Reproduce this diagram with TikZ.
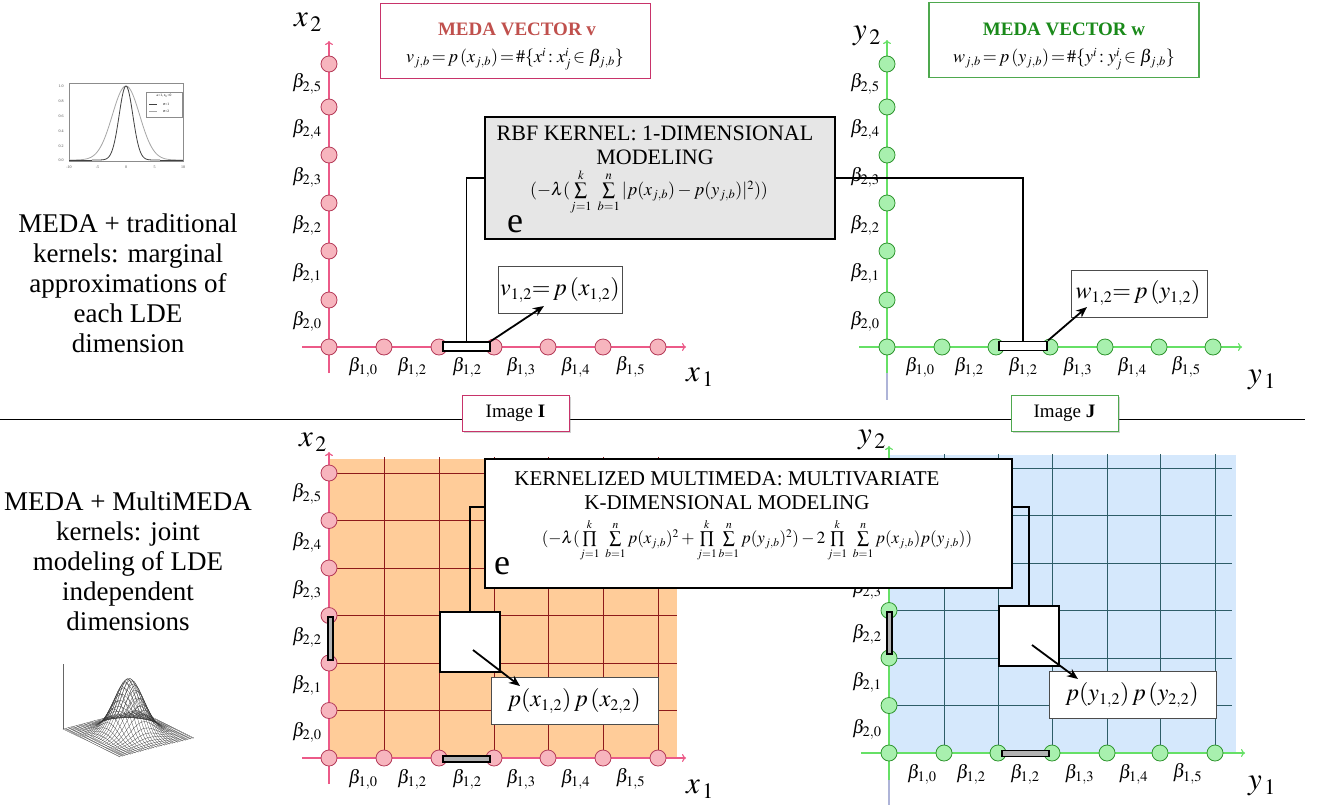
\documentclass[tikz,border=0pt]{standalone}
\usepackage{mathptmx}
\usepackage[no-math]{fontspec}
\setmainfont{Liberation Serif}
\usetikzlibrary{arrows.meta,shadows,calc}
\DeclareMathSizes{17}{17}{11.5}{8}
\DeclareMathSizes{19}{19}{14.5}{11}
\DeclareMathSizes{18}{18}{12.5}{9}
\DeclareMathSizes{24}{24}{16}{12}
\DeclareMathSizes{31}{31}{22}{16}
\definecolor{pinkaxis}{HTML}{EC5A88}
\definecolor{pinkfill}{HTML}{F7B5BE}
\definecolor{pinkdraw}{HTML}{B53A58}
\definecolor{crimbox}{HTML}{C8336A}
\definecolor{redtitle}{HTML}{C0504D}
\definecolor{greenaxis}{HTML}{66E066}
\definecolor{greenfill}{HTML}{A8F0AE}
\definecolor{greendraw}{HTML}{2E952E}
\definecolor{greenbox}{HTML}{4EA84E}
\definecolor{greentitle}{HTML}{1A8A1A}
\definecolor{orangebg}{HTML}{FFCC99}
\definecolor{gridred}{HTML}{8E1A1A}
\definecolor{bluebg}{HTML}{D5E8FC}
\definecolor{gridteal}{HTML}{2E5D68}
\definecolor{lavender}{HTML}{AEB4D8}
\definecolor{rbfgray}{HTML}{E6E6E6}
\begin{document}
\begin{tikzpicture}[x=1pt,y=-1pt,
  pc/.style={circle, minimum size=16pt, inner sep=0pt, fill=pinkfill, draw=pinkdraw, line width=0.8pt},
  gc/.style={circle, minimum size=16pt, inner sep=0pt, fill=greenfill, draw=greendraw, line width=0.8pt},
  blab/.style={font=\fontsize{19}{21}\selectfont, inner sep=0pt},
  axlab/.style={font=\fontsize{31}{33}\selectfont, inner sep=0pt},
  lefttext/.style={align=center, font=\fontsize{27}{30}\selectfont, inner sep=0pt},
  whitebar/.style={draw=black, line width=1.8pt, fill=white, inner sep=0pt},
  graybar/.style={draw=black, line width=1.5pt, fill=black!30, inner sep=0pt},
  conn/.style={line width=1.6pt},
  arr/.style={line width=1.8pt, -{Stealth[length=11pt,width=9pt]}},
  formbox/.style={draw=black!70, fill=white, line width=0.8pt, inner sep=0pt},
  bigbox/.style={draw=black, line width=2pt, inner sep=0pt},
  axtip/.style={-{To[length=4pt,width=8pt]}},
  formtext/.style={inner sep=0pt, font=\fontsize{24}{26}\selectfont},
  titletext/.style={inner sep=0pt, font=\fontsize{22}{24}\selectfont, align=center},
  expo/.style={inner sep=0pt, font=\fontsize{17}{19}\selectfont},
  bige/.style={inner sep=0pt, font=\fontsize{36}{38}\selectfont},
  imgbox/.style={fill=white, line width=1pt, minimum width=107pt, minimum height=36pt, inner sep=0pt,
     font=\fontsize{19}{21}\selectfont, drop shadow={shadow xshift=2pt, shadow yshift=-2pt, opacity=0.35}},
  meda/.style={fill=white, line width=1.1pt, minimum width=270pt, minimum height=75pt, inner sep=0pt}
]
\useasboundingbox (0,0) rectangle (1322,809);
\fill[white] (0,0) rectangle (1322,809);

% ---------------- left texts ----------------
\node[lefttext] (txtA) at (128,283) {MEDA + traditional\\kernels: marginal\\approximations of\\each LDE\\dimension};
\node[lefttext] (txtB) at (128,561) {MEDA + MultiMEDA\\kernels: joint\\modeling of LDE\\independent\\dimensions};

% ---------------- thumbnail 1: 1-D gaussians ----------------
\draw[black!45, line width=0.5pt] (69,83) rectangle (183,161);
\draw[black!35, line width=0.8pt] plot[domain=-10:10, samples=90] ({126+5.7*\x},{160-74*exp(-\x*\x/11.5)});
\draw[black!75, line width=0.8pt] plot[domain=-6:6, samples=70] ({126+5.7*\x},{160-74*exp(-\x*\x/2.88)});
\draw[black!75, line width=0.8pt] (69,160) -- (91.8,160) (160.2,160) -- (183,160);
\draw[black!45, fill=white, line width=0.4pt] (146,92) rectangle (182,117);
\node[inner sep=0pt, font=\fontsize{3.6}{4}\selectfont] (lg1) at (164,96) {a=1, x$_0$=0};
\draw[black!75, line width=0.6pt] (149,104) -- (157,104);
\node[inner sep=0pt, font=\fontsize{3.6}{4}\selectfont] (lg2) at (166,104) {$\sigma$=1};
\draw[black!35, line width=0.6pt] (149,111) -- (157,111);
\node[inner sep=0pt, font=\fontsize{3.6}{4}\selectfont] (lg3) at (166,111) {$\sigma$=2};
\foreach \v/\yy in {1.0/86,0.8/101,0.6/116,0.4/131,0.2/146,0.0/160}
  \node[inner sep=0pt, font=\fontsize{4}{5}\selectfont, text=black!70] (tk\yy) at (61,\yy) {\v};
\foreach \v/\xx in {-10/69,-5/97.5,0/126,5/154.5,10/183}
  \node[inner sep=0pt, font=\fontsize{4}{5}\selectfont, text=black!70] (tx\xx) at (\xx,167) {\v};

% ---------------- thumbnail 2: 2-D gaussian mesh ----------------
\draw[black!60, line width=0.4pt] (63,729) -- (63,664);
\foreach \v in {-1,-0.93,...,1.01}
  \draw[black!80, line width=0.22pt] plot[domain=-1:1, samples=30] ({129+37.5*\x+28.5*\v},{733.5-9.5*\x+14*\v-55*exp(-5*(\x*\x+\v*\v))});
\foreach \u in {-1,-0.93,...,1.01}
  \draw[black!80, line width=0.22pt] plot[domain=-1:1, samples=30] ({129+37.5*\u+28.5*\x},{733.5-9.5*\u+14*\x-55*exp(-5*(\x*\x+\u*\u))});

% ================= TOP LEFT (image I, 1-D) =================
\draw[pinkaxis, line width=1.2pt, axtip] (329,373) -- (329,41);
\draw[pinkaxis, line width=1.2pt, axtip] (302,347) -- (686,347);
\foreach \yy [count=\i] in {64,107,155,203,251,300}
  \node[pc] (tlv\i) at (329,\yy) {};
\foreach \xx [count=\i] in {329,384,439,494,548,603,658}
  \node[pc] (tlh\i) at (\xx,347) {};
\foreach \yy/\s in {84/5,129/4,177/3,225/2,273/1,321/0}
  \node[blab] (tlvl\s) at (307,\yy) {$\beta_{2,\s}$};
\foreach \xx/\s [count=\i] in {363/0,412/2,467/2,521/3,575.5/4,630.5/5}
  \node[blab] (tlhl\i) at (\xx,367) {$\beta_{1,\s}$};
\node[axlab] (tlx2) at (308,22) {$x_{\,2}$};
\node[axlab] (tlx1) at (700,377) {$x_{\,1}$};

% ================= TOP RIGHT (image J, 1-D) =================
\draw[lavender, line width=1.2pt] (887,372) -- (887,400);
\draw[greenaxis, line width=1.2pt, axtip] (887,373) -- (887,40);
\draw[greenaxis, line width=1.2pt, axtip] (859,347) -- (1242,347);
\foreach \yy [count=\i] in {64,107,155,203,251,300}
  \node[gc] (trv\i) at (887,\yy) {};
\foreach \xx [count=\i] in {887,942,996,1050,1105,1159,1213}
  \node[gc] (trh\i) at (\xx,347) {};
\foreach \yy/\s in {84/5,129/4,177/3,225/2,273/1,321/0}
  \node[blab] (trvl\s) at (865,\yy) {$\beta_{2,\s}$};
\foreach \xx/\s [count=\i] in {920/0,969/2,1023/2,1077.5/3,1132/4,1186/5}
  \node[blab] (trhl\i) at (\xx,367) {$\beta_{1,\s}$};
\node[axlab] (try2) at (867,36) {$y_{\,2}$};
\node[axlab] (try1) at (1262,380) {$y_{\,1}$};

% MEDA vector boxes
\node[meda, draw=crimbox] (medav) at (515.5,41) {};
\node[inner sep=0pt, font=\fontsize{19}{21}\selectfont\bfseries, text=redtitle] (medavt) at (517,29) {MEDA VECTOR v};
\node[inner sep=0pt, font=\fontsize{18}{20}\selectfont] (medavf) at (515,59) {$v_{j,b}\,{=}\,p\,(x_{j,b})\,{=}\,\#\{x^{i}\!:x^{i}_{j}\!\in\beta_{j,b}\}$};
\node[meda, draw=greenbox] (medaw) at (1064,40) {};
\node[inner sep=0pt, font=\fontsize{19}{21}\selectfont\bfseries, text=greentitle] (medawt) at (1064,29) {MEDA VECTOR w};
\node[inner sep=0pt, font=\fontsize{18}{20}\selectfont] (medawf) at (1064,59) {$w_{j,b}\,{=}\,p\,(y_{j,b})\,{=}\,\#\{y^{i}\!:y^{i}_{j}\!\in\beta_{j,b}\}$};

% bars (top)
\node[whitebar, minimum width=47pt, minimum height=9pt] (barTL) at (466.5,346.5) {};
\node[whitebar, minimum width=48pt, minimum height=9pt] (barTR) at (1023,346) {};

% RBF box and connectors
\draw[conn] (barTL.north) |- (660,178);
\draw[conn] (660,178) -| (barTR.north);
\node[bigbox, fill=rbfgray, minimum width=350pt, minimum height=122pt] (rbf) at (660,178) {};
\node[titletext] (rbft) at (655,145) {RBF KERNEL: 1-DIMENSIONAL\\MODELING};
\node[expo, font=\fontsize{18}{20}\selectfont] (rbfx) at (649,192) {$(-\lambda(\sum\limits_{j=1}^{k}\;\sum\limits_{b=1}^{n}|p(x_{j,b})-p(y_{j,b})|^{2}))$};
\node[bige] (rbfe) at (515,224) {e};

% value boxes (top)
\node[formbox, minimum width=124pt, minimum height=47pt] (vbox) at (560,289.5) {};
\node[formtext] (vboxt) at (560,290) {$v_{1,2}{=}\,p\,(x_{1,2})$};
\node[formbox, minimum width=136pt, minimum height=47pt] (wbox) at (1139,293.5) {};
\node[formtext] (wboxt) at (1138,293) {$w_{1,2}{=}\,p\,(y_{1,2})$};
\coordinate (tipTL) at (544,306);
\coordinate (tipTR) at (1087,307);
\draw[arr] (barTL.north east) -- (tipTL);
\draw[arr] (barTR.north east) -- (tipTR);

% ---------------- separator ----------------
\draw[line width=1pt] (0,419) -- (1305,419);
\node[imgbox, draw=crimbox] (imgI) at (515.5,413) {Image \textbf{I}};
\node[imgbox, draw=greenbox] (imgJ) at (1064.5,413) {Image \textbf{J}};

% ================= BOTTOM LEFT =================
\fill[orangebg] (329,459) rectangle (677,758);
\foreach \xx in {384,439,494,548,603,658}
  \draw[gridred, line width=1pt] (\xx,457) -- (\xx,758);
\foreach \yy in {473,520.5,568,615.5,663,710.5}
  \draw[gridred, line width=1pt] (329,\yy) -- (677,\yy);
\draw[pinkaxis, line width=1.2pt, axtip] (329,784) -- (329,452);
\draw[pinkaxis, line width=1.2pt, axtip] (302,758) -- (686,758);
\foreach \yy [count=\i] in {473,520.5,568,615.5,663,710.5}
  \node[pc] (blv\i) at (329,\yy) {};
\foreach \xx [count=\i] in {329,384,439,494,548,603,658}
  \node[pc] (blh\i) at (\xx,758) {};
\foreach \yy/\s in {494/5,542/4,590/3,637/2,685/1,732/0}
  \node[blab] (blvl\s) at (307,\yy) {$\beta_{2,\s}$};
\foreach \xx/\s [count=\i] in {363/0,412/2,467/2,521/3,575.5/4,630.5/5}
  \node[blab] (blhl\i) at (\xx,779) {$\beta_{1,\s}$};
\node[axlab] (blx2) at (313,442) {$x_{\,2}$};
\node[axlab] (blx1) at (700,789) {$x_{\,1}$};
\node[graybar, minimum width=47pt, minimum height=6pt] (hbarL) at (466.5,759) {};
\node[graybar, minimum width=5pt, minimum height=43pt] (vbarL) at (330.5,638.5) {};

% ================= BOTTOM RIGHT =================
\fill[bluebg] (889,455) rectangle (1236,753);
\foreach \xx in {944,998,1052,1107,1160,1215}
  \draw[gridteal, line width=1pt] (\xx,454) -- (\xx,753);
\foreach \yy in {468,515.5,563,610.5,658,705.5}
  \draw[gridteal, line width=1pt] (889,\yy) -- (1232,\yy);
\draw[lavender, line width=1.2pt] (889,779) -- (889,805);
\draw[greenaxis, line width=1.2pt, axtip] (889,780) -- (889,446);
\draw[greenaxis, line width=1.2pt, axtip] (861,753) -- (1245,753);
\foreach \yy [count=\i] in {468,515.5,563,610.5,658,705.5}
  \node[gc] (brv\i) at (889,\yy) {};
\foreach \xx [count=\i] in {889,944,998,1052,1107,1160,1215}
  \node[gc] (brh\i) at (\xx,753) {};
\foreach \yy/\s in {589/3,634/2,682/1,729/0}
  \node[blab] (brvl\s) at (867,\yy) {$\beta_{2,\s}$};
\foreach \xx/\s [count=\i] in {922/0,971/2,1025/2,1079.5/3,1133.5/4,1187.5/5}
  \node[blab] (brhl\i) at (\xx,774) {$\beta_{1,\s}$};
\node[axlab] (bry2) at (872,440) {$y_{\,2}$};
\node[axlab] (bry1) at (1262,786) {$y_{\,1}$};
\node[graybar, minimum width=47pt, minimum height=6pt] (hbarR) at (1025.5,753.5) {};
\node[graybar, minimum width=5pt, minimum height=42pt] (vbarR) at (889.5,633) {};

% squares, connectors, kernel box
\node[bigbox, fill=white, minimum width=60pt, minimum height=60pt] (sqL) at (470,642) {};
\node[bigbox, fill=white, minimum width=60pt, minimum height=60pt] (sqR) at (1029,636) {};
\coordinate (kL) at (486,507);
\coordinate (kR) at (1011,507);
\draw[conn] (sqL.north) |- (kL);
\draw[conn] (sqR.north) |- (kR);
\node[bigbox, fill=white, minimum width=527pt, minimum height=129pt] (kbox) at (748.5,523.5) {};
\node[titletext, font=\fontsize{21}{24}\selectfont] (kboxt) at (727,491) {KERNELIZED MULTIMEDA: MULTIVARIATE\\K-DIMENSIONAL MODELING};
\node[expo] (kboxx) at (757,540) {$(-\lambda(\prod\limits_{j=1}^{k}\;\sum\limits_{b=1}^{n}p(x_{j,b})^{2}+\prod\limits_{j=1}^{k}\sum\limits_{b=1}^{n}p(y_{j,b})^{2})-2\prod\limits_{j=1}^{k}\;\sum\limits_{b=1}^{n}p(x_{j,b})p(y_{j,b}))$};
\node[bige] (kboxe) at (502,566) {e};

% product boxes
\node[formbox, minimum width=167pt, minimum height=47pt] (pbL) at (574.5,700.5) {};
\node[formtext] (pbLt) at (574,701) {$p(x_{1,2})\,p\,(x_{2,2})$};
\node[formbox, minimum width=167pt, minimum height=47pt] (pbR) at (1132.5,694.5) {};
\node[formtext] (pbRt) at (1132,695) {$p(y_{1,2})\,p\,(y_{2,2})$};
\coordinate (tipBL) at (520,686);
\coordinate (tipBR) at (1078,679);
\draw[arr] ($(sqL.center)+(3,8)$) -- (tipBL);
\draw[arr] ($(sqR.center)+(3,9)$) -- (tipBR);
\end{tikzpicture}
\end{document}
